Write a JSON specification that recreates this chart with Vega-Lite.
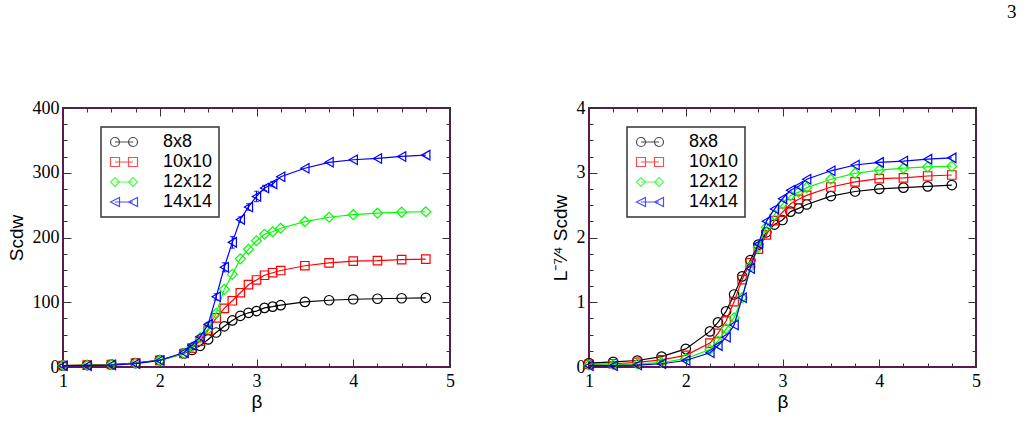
{
  "$schema": "https://vega.github.io/schema/vega-lite/v6.json",
  "padding": {"left": 6, "top": 3, "right": 0, "bottom": 0},
  "title": {"text": "3", "anchor": "end", "font": "Liberation Serif", "fontSize": 19, "fontWeight": "normal", "color": "#000", "offset": 76, "dx": 35},
  "spacing": 94,
  "resolve": {"scale": {"color": "independent", "shape": "independent"}, "legend": {"color": "independent", "shape": "independent"}},
  "datasets": {
    "d": [
      {"b":1,"L":"8x8","S":2.3,"N":0.06},{"b":1.25,"L":"8x8","S":3.0,"N":0.08},{"b":1.5,"L":"8x8","S":3.8,"N":0.10},{"b":1.75,"L":"8x8","S":6.1,"N":0.16},{"b":2,"L":"8x8","S":10.7,"N":0.28},{"b":2.25,"L":"8x8","S":20.9,"N":0.55},{"b":2.333,"L":"8x8","S":26.3,"N":0.69},{"b":2.417,"L":"8x8","S":32.7,"N":0.86},{"b":2.5,"L":"8x8","S":42.6,"N":1.12},{"b":2.583,"L":"8x8","S":53.3,"N":1.40},{"b":2.667,"L":"8x8","S":62.8,"N":1.65},{"b":2.75,"L":"8x8","S":71.9,"N":1.89},{"b":2.833,"L":"8x8","S":79.1,"N":2.08},{"b":2.917,"L":"8x8","S":83.7,"N":2.20},{"b":3,"L":"8x8","S":86.4,"N":2.27},{"b":3.083,"L":"8x8","S":91.3,"N":2.40},{"b":3.167,"L":"8x8","S":93.2,"N":2.45},{"b":3.25,"L":"8x8","S":95.5,"N":2.51},{"b":3.5,"L":"8x8","S":100.5,"N":2.64},{"b":3.75,"L":"8x8","S":103.1,"N":2.71},{"b":4,"L":"8x8","S":104.6,"N":2.75},{"b":4.25,"L":"8x8","S":105.4,"N":2.77},{"b":4.5,"L":"8x8","S":106.2,"N":2.79},{"b":4.75,"L":"8x8","S":106.9,"N":2.81},
      {"b":1,"L":"10x10","S":2.2,"N":0.04},{"b":1.25,"L":"10x10","S":2.8,"N":0.05},{"b":1.5,"L":"10x10","S":3.9,"N":0.07},{"b":1.75,"L":"10x10","S":6.2,"N":0.11},{"b":2,"L":"10x10","S":10.1,"N":0.18},{"b":2.25,"L":"10x10","S":20.8,"N":0.37},{"b":2.333,"L":"10x10","S":29.2,"N":0.52},{"b":2.417,"L":"10x10","S":39.9,"N":0.71},{"b":2.5,"L":"10x10","S":56.8,"N":1.01},{"b":2.583,"L":"10x10","S":75.9,"N":1.35},{"b":2.667,"L":"10x10","S":90.5,"N":1.61},{"b":2.75,"L":"10x10","S":102.3,"N":1.82},{"b":2.833,"L":"10x10","S":114.7,"N":2.04},{"b":2.917,"L":"10x10","S":127.1,"N":2.26},{"b":3,"L":"10x10","S":134.4,"N":2.39},{"b":3.083,"L":"10x10","S":141.7,"N":2.52},{"b":3.167,"L":"10x10","S":145.6,"N":2.59},{"b":3.25,"L":"10x10","S":149.0,"N":2.65},{"b":3.5,"L":"10x10","S":156.4,"N":2.78},{"b":3.75,"L":"10x10","S":160.8,"N":2.86},{"b":4,"L":"10x10","S":163.6,"N":2.91},{"b":4.25,"L":"10x10","S":164.2,"N":2.92},{"b":4.5,"L":"10x10","S":165.9,"N":2.95},{"b":4.75,"L":"10x10","S":166.7,"N":2.965},
      {"b":1,"L":"12x12","S":2.3,"N":0.03},{"b":1.25,"L":"12x12","S":2.7,"N":0.035},{"b":1.5,"L":"12x12","S":3.5,"N":0.045},{"b":1.75,"L":"12x12","S":5.4,"N":0.07},{"b":2,"L":"12x12","S":10.1,"N":0.13},{"b":2.25,"L":"12x12","S":20.9,"N":0.27},{"b":2.333,"L":"12x12","S":30.9,"N":0.40},{"b":2.417,"L":"12x12","S":45.4,"N":0.59},{"b":2.5,"L":"12x12","S":58.8,"N":0.76},{"b":2.583,"L":"12x12","S":82.8,"N":1.07},{"b":2.667,"L":"12x12","S":119.9,"N":1.55},{"b":2.75,"L":"12x12","S":143.1,"N":1.85},{"b":2.833,"L":"12x12","S":167.1,"N":2.16},{"b":2.917,"L":"12x12","S":181.8,"N":2.35},{"b":3,"L":"12x12","S":195.0,"N":2.52},{"b":3.083,"L":"12x12","S":205.0,"N":2.65},{"b":3.167,"L":"12x12","S":208.9,"N":2.70},{"b":3.25,"L":"12x12","S":214.3,"N":2.77},{"b":3.5,"L":"12x12","S":224.4,"N":2.90},{"b":3.75,"L":"12x12","S":231.3,"N":2.99},{"b":4,"L":"12x12","S":235.2,"N":3.04},{"b":4.25,"L":"12x12","S":237.5,"N":3.07},{"b":4.5,"L":"12x12","S":239.1,"N":3.09},{"b":4.75,"L":"12x12","S":239.8,"N":3.10},
      {"b":1,"L":"14x14","S":2.0,"N":0.02},{"b":1.25,"L":"14x14","S":2.0,"N":0.02},{"b":1.5,"L":"14x14","S":3.0,"N":0.03},{"b":1.75,"L":"14x14","S":5.1,"N":0.05},{"b":2,"L":"14x14","S":10.1,"N":0.10},{"b":2.25,"L":"14x14","S":22.3,"N":0.22},{"b":2.333,"L":"14x14","S":33.4,"N":0.33},{"b":2.417,"L":"14x14","S":46.6,"N":0.46},{"b":2.5,"L":"14x14","S":65.8,"N":0.65},{"b":2.583,"L":"14x14","S":108.4,"N":1.07},{"b":2.667,"L":"14x14","S":154.0,"N":1.52},{"b":2.75,"L":"14x14","S":192.5,"N":1.90},{"b":2.833,"L":"14x14","S":227.9,"N":2.25},{"b":2.917,"L":"14x14","S":247.2,"N":2.44},{"b":3,"L":"14x14","S":263.4,"N":2.60},{"b":3.083,"L":"14x14","S":276.5,"N":2.73},{"b":3.167,"L":"14x14","S":282.6,"N":2.79},{"b":3.25,"L":"14x14","S":293.8,"N":2.90},{"b":3.5,"L":"14x14","S":306.9,"N":3.03},{"b":3.75,"L":"14x14","S":316.1,"N":3.12},{"b":4,"L":"14x14","S":320.1,"N":3.16},{"b":4.25,"L":"14x14","S":322.1,"N":3.18},{"b":4.5,"L":"14x14","S":325.2,"N":3.21},{"b":4.75,"L":"14x14","S":327.2,"N":3.23}
    ],
    "err": [
      {"b":2.5,"S":65.8,"e":3},{"b":2.583,"S":108.4,"e":5},{"b":2.667,"S":154.0,"e":7},{"b":2.75,"S":192.5,"e":9},{"b":2.833,"S":227.9,"e":4},{"b":2.917,"S":247.2,"e":5},{"b":3,"S":263.4,"e":8},{"b":3.083,"S":276.5,"e":4},{"b":3.167,"S":282.6,"e":4}
    ]
  },
  "hconcat": [
    {
      "width": 387, "height": 259,
      "data": {"name": "d"},
      "resolve": {"axis": {"x": "independent", "y": "independent"}},
      "layer": [
        {
          "transform": [{"filter": "datum.L == '8x8'"}],
          "mark": {"type": "line", "strokeWidth": 1.2, "color": "#000000", "point": {"shape": "circle", "size": 90, "filled": false, "strokeWidth": 1.2, "stroke": "#000000"}},
          "encoding": {
            "x": {"field": "b", "type": "quantitative", "scale": {"domain": [1, 5], "nice": false, "zero": false},
                  "axis": {"orient": "bottom", "values": [1,2,3,4,5], "tickSize": -8, "labelPadding": 13, "title": "β", "titlePadding": 2}},
            "y": {"field": "S", "type": "quantitative", "scale": {"domain": [0, 400], "nice": false},
                  "axis": {"orient": "left", "values": [0,100,200,300,400], "tickSize": -8, "labelPadding": 12, "title": "Scdw", "titlePadding": 6}}
          }
        },
        {
          "transform": [{"filter": "datum.L == '10x10'"}],
          "mark": {"type": "line", "strokeWidth": 1.2, "color": "#ff0000", "point": {"shape": "square", "size": 72, "filled": false, "strokeWidth": 1.2, "stroke": "#ff0000"}},
          "encoding": {
            "x": {"field": "b", "type": "quantitative", "axis": {"orient": "bottom", "values": [1.25,1.5,1.75,2.25,2.5,2.75,3.25,3.5,3.75,4.25,4.5,4.75], "tickSize": -4, "labels": false, "title": null}},
            "y": {"field": "S", "type": "quantitative", "axis": {"orient": "left", "values": [25,50,75,125,150,175,225,250,275,325,350,375], "tickSize": -4, "labels": false, "title": null}}
          }
        },
        {
          "transform": [{"filter": "datum.L == '12x12'"}],
          "mark": {"type": "line", "strokeWidth": 1.2, "color": "#00ff00", "point": {"shape": "diamond", "size": 100, "filled": false, "strokeWidth": 1.2, "stroke": "#00ff00"}},
          "encoding": {
            "x": {"field": "b", "type": "quantitative", "axis": {"orient": "top", "values": [1,2,3,4,5], "tickSize": -8, "labels": false, "title": null}},
            "y": {"field": "S", "type": "quantitative", "axis": {"orient": "right", "values": [0,100,200,300,400], "tickSize": -8, "labels": false, "title": null}}
          }
        },
        {
          "transform": [{"filter": "datum.L == '14x14'"}],
          "mark": {"type": "line", "strokeWidth": 1.2, "color": "#0000ff", "point": {"shape": "triangle-left", "size": 90, "filled": false, "strokeWidth": 1.2, "stroke": "#0000ff"}},
          "encoding": {
            "x": {"field": "b", "type": "quantitative", "axis": {"orient": "top", "values": [1.25,1.5,1.75,2.25,2.5,2.75,3.25,3.5,3.75,4.25,4.5,4.75], "tickSize": -4, "labels": false, "title": null}},
            "y": {"field": "S", "type": "quantitative", "axis": {"orient": "right", "values": [25,50,75,125,150,175,225,250,275,325,350,375], "tickSize": -4, "labels": false, "title": null}}
          }
        },
        {
          "data": {"name": "err"},
          "mark": {"type": "errorbar", "ticks": true, "color": "#0000ff", "thickness": 1.2},
          "encoding": {
            "x": {"field": "b", "type": "quantitative", "axis": null},
            "y": {"field": "S", "type": "quantitative", "axis": null},
            "yError": {"field": "e"}
          }
        },
        {
          "transform": [{"filter": "false"}],
          "mark": {"type": "point", "size": 81, "filled": false, "strokeWidth": 1.2},
          "encoding": {
            "x": {"field": "b", "type": "quantitative", "axis": null},
            "y": {"field": "S", "type": "quantitative", "axis": null},
            "color": {"field": "L", "type": "nominal", "scale": {"domain": ["8x8","10x10","12x12","14x14"], "range": ["#000000","#ff0000","#00ff00","#0000ff"]},
                      "legend": {"orient": "none", "legendX": 38, "legendY": 19, "title": null, "labelExpr": "datum.label == '8x8' ? '\u00a0\u00a08x8' : datum.label"}},
            "shape": {"field": "L", "type": "nominal", "scale": {"domain": ["8x8","10x10","12x12","14x14"], "range": [
              "M-3,0A1,1,0,1,1,-1,0A1,1,0,1,1,-3,0M-2,0L2,0M1,0A1,1,0,1,1,3,0A1,1,0,1,1,1,0",
              "M-3,-1H-1V1H-3ZM-2,0H2M1,-1H3V1H1Z",
              "M-3,0L-2,-1L-1,0L-2,1ZM-2,0H2M1,0L2,-1L3,0L2,1Z",
              "M-3,0L-1,-1L-1,1ZM-2,0H2M1,0L3,-1L3,1Z"]},
                      "legend": {"orient": "none", "legendX": 38, "legendY": 19, "title": null, "labelExpr": "datum.label == '8x8' ? '\u00a0\u00a08x8' : datum.label"}}
          }
        }
      ]
    },
    {
      "width": 387, "height": 259,
      "data": {"name": "d"},
      "resolve": {"axis": {"x": "independent", "y": "independent"}},
      "layer": [
        {
          "transform": [{"filter": "datum.L == '8x8'"}],
          "mark": {"type": "line", "strokeWidth": 1.2, "color": "#000000", "point": {"shape": "circle", "size": 90, "filled": false, "strokeWidth": 1.2, "stroke": "#000000"}},
          "encoding": {
            "x": {"field": "b", "type": "quantitative", "scale": {"domain": [1, 5], "nice": false, "zero": false},
                  "axis": {"orient": "bottom", "values": [1,2,3,4,5], "tickSize": -8, "labelPadding": 13, "title": "β", "titlePadding": 2}},
            "y": {"field": "N", "type": "quantitative", "scale": {"domain": [0, 4], "nice": false},
                  "axis": {"orient": "left", "values": [0,1,2,3,4], "tickSize": -8, "labelPadding": 12, "title": "L⁻⁷⁄⁴ Scdw", "titlePadding": 6}}
          }
        },
        {
          "transform": [{"filter": "datum.L == '10x10'"}],
          "mark": {"type": "line", "strokeWidth": 1.2, "color": "#ff0000", "point": {"shape": "square", "size": 72, "filled": false, "strokeWidth": 1.2, "stroke": "#ff0000"}},
          "encoding": {
            "x": {"field": "b", "type": "quantitative", "axis": {"orient": "bottom", "values": [1.25,1.5,1.75,2.25,2.5,2.75,3.25,3.5,3.75,4.25,4.5,4.75], "tickSize": -4, "labels": false, "title": null}},
            "y": {"field": "N", "type": "quantitative", "axis": {"orient": "left", "values": [0.25,0.5,0.75,1.25,1.5,1.75,2.25,2.5,2.75,3.25,3.5,3.75], "tickSize": -4, "labels": false, "title": null}}
          }
        },
        {
          "transform": [{"filter": "datum.L == '12x12'"}],
          "mark": {"type": "line", "strokeWidth": 1.2, "color": "#00ff00", "point": {"shape": "diamond", "size": 100, "filled": false, "strokeWidth": 1.2, "stroke": "#00ff00"}},
          "encoding": {
            "x": {"field": "b", "type": "quantitative", "axis": {"orient": "top", "values": [1,2,3,4,5], "tickSize": -8, "labels": false, "title": null}},
            "y": {"field": "N", "type": "quantitative", "axis": {"orient": "right", "values": [0,1,2,3,4], "tickSize": -8, "labels": false, "title": null}}
          }
        },
        {
          "transform": [{"filter": "datum.L == '14x14'"}],
          "mark": {"type": "line", "strokeWidth": 1.2, "color": "#0000ff", "point": {"shape": "triangle-left", "size": 90, "filled": false, "strokeWidth": 1.2, "stroke": "#0000ff"}},
          "encoding": {
            "x": {"field": "b", "type": "quantitative", "axis": {"orient": "top", "values": [1.25,1.5,1.75,2.25,2.5,2.75,3.25,3.5,3.75,4.25,4.5,4.75], "tickSize": -4, "labels": false, "title": null}},
            "y": {"field": "N", "type": "quantitative", "axis": {"orient": "right", "values": [0.25,0.5,0.75,1.25,1.5,1.75,2.25,2.5,2.75,3.25,3.5,3.75], "tickSize": -4, "labels": false, "title": null}}
          }
        },
        {
          "transform": [{"filter": "false"}],
          "mark": {"type": "point", "size": 81, "filled": false, "strokeWidth": 1.2},
          "encoding": {
            "x": {"field": "b", "type": "quantitative", "axis": null},
            "y": {"field": "N", "type": "quantitative", "axis": null},
            "color": {"field": "L", "type": "nominal", "scale": {"domain": ["8x8","10x10","12x12","14x14"], "range": ["#000000","#ff0000","#00ff00","#0000ff"]},
                      "legend": {"orient": "none", "legendX": 38, "legendY": 19, "title": null, "labelExpr": "datum.label == '8x8' ? '\u00a0\u00a08x8' : datum.label"}},
            "shape": {"field": "L", "type": "nominal", "scale": {"domain": ["8x8","10x10","12x12","14x14"], "range": [
              "M-3,0A1,1,0,1,1,-1,0A1,1,0,1,1,-3,0M-2,0L2,0M1,0A1,1,0,1,1,3,0A1,1,0,1,1,1,0",
              "M-3,-1H-1V1H-3ZM-2,0H2M1,-1H3V1H1Z",
              "M-3,0L-2,-1L-1,0L-2,1ZM-2,0H2M1,0L2,-1L3,0L2,1Z",
              "M-3,0L-1,-1L-1,1ZM-2,0H2M1,0L3,-1L3,1Z"]},
                      "legend": {"orient": "none", "legendX": 38, "legendY": 19, "title": null, "labelExpr": "datum.label == '8x8' ? '\u00a0\u00a08x8' : datum.label"}}
          }
        }
      ]
    }
  ],
  "config": {
    "background": "white",
    "view": {"stroke": "#5c1a4d", "strokeWidth": 2},
    "axis": {"labelFont": "Liberation Serif", "labelFontSize": 18, "labelColor": "#000", "titleFont": "Liberation Sans", "titleFontSize": 19, "titleFontWeight": "normal", "titleColor": "#000", "domain": false, "grid": false, "tickColor": "#333", "tickWidth": 1, "labelOverlap": false, "labelFlush": false},
    "legend": {"strokeColor": "#333", "strokeWidth": 1.5, "padding": 6, "fillColor": "white", "labelFont": "Liberation Sans", "labelFontSize": 18, "labelColor": "#000", "labelAlign": "left", "labelOffset": 30, "symbolOffset": 8, "rowPadding": 2, "symbolStrokeWidth": 1.2, "symbolSize": 81, "labelLimit": 200}
  }
}
